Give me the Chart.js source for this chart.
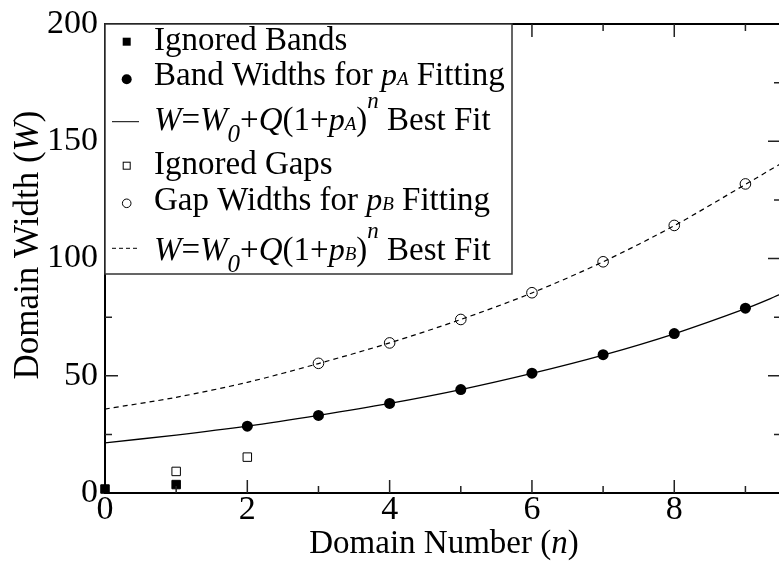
<!DOCTYPE html>
<html>
<head>
<meta charset="utf-8">
<script src="https://cdn.jsdelivr.net/npm/chart.js@4.4.1/dist/chart.umd.min.js"></script>
<style>
  html, body { margin: 0; padding: 0; background: #fff; overflow: hidden; width: 779px; height: 561px; }
  #wrap { position: relative; width: 788px; height: 561px; }
</style>
</head>
<body>
<div id="wrap"><canvas id="chart" width="788" height="561"></canvas></div>
<script>
// values
const ignoredBandN = [0, 1];
const ignoredBands = [1.7, 3.6];
const bandN = [2, 3, 4, 5, 6, 7, 8, 9];
const bandWidths = [28.5, 33.1, 38.2, 44.1, 51.1, 59.0, 68.0, 78.8];
const ignoredGapN = [1, 2];
const ignoredGaps = [9.2, 15.3];
const gapN = [3, 4, 5, 6, 7, 8, 9];
const gapWidths = [55.3, 64.0, 74.0, 85.4, 98.6, 114.1, 131.8];
const fitN = [0, 1, 2, 3, 4, 5, 6, 7, 8, 9, 9.5];
const bandFit = [21.4, 24.7, 28.5, 33.1, 38.2, 44.1, 51.0, 58.8, 67.9, 78.6, 84.8];
const gapFit = [35.8, 40.8, 47.2, 55.2, 64.0, 74.0, 85.3, 98.6, 114.0, 131.6, 140.5];
const seriesLabels = ['Ignored Bands', 'Band Widths for pA Fitting', 'W=W0+Q(1+pA)^n Best Fit',
  'Ignored Gaps', 'Gap Widths for pB Fitting', 'W=W0+Q(1+pB)^n Best Fit'];

const serif = '"Liberation Serif", "Times New Roman", serif';
const font = (size, italic) => (italic ? 'italic ' : '') + size + 'px ' + serif;
const pts = (xs, ys) => xs.map((v, i) => ({ x: v, y: ys[i] }));

function drawRuns(ctx, x, y, runs) {
  runs.forEach(r => {
    ctx.font = r.font;
    ctx.fillText(r.t, x, y + (r.dy || 0));
    x += ctx.measureText(r.t).width + (r.dx || 0);
  });
  return x;
}
function runsWidth(ctx, runs) {
  let w = 0;
  runs.forEach(r => { ctx.font = r.font; w += ctx.measureText(r.t).width + (r.dx || 0); });
  return w;
}

const R = font(33), I = font(33, true);
const pSub = s => [{ t: 'p', font: font(32, true) }, { t: s, font: font(19, true) }];
const formula = s => [
  { t: 'W', font: I }, { t: '=', font: R }, { t: 'W', font: I },
  { t: '0', font: font(25, true), dy: 12 }, { t: '+', font: R }, { t: 'Q', font: I },
  { t: '(1+', font: R }, ...pSub(s), { t: ')', font: R },
  { t: 'n', font: font(23, true), dy: -22 }, { t: ' Best Fit', font: R }
];

const legendRows = [
  { mark: 'fsq', y: 49.5, my: 41.7, runs: [{ t: 'Ignored Bands', font: R }] },
  { mark: 'fci', y: 84.5, my: 79.3, runs: [{ t: 'Band Widths for ', font: R }, ...pSub('A'), { t: ' Fitting', font: R }] },
  { mark: 'solid', y: 130, my: 121.7, runs: formula('A') },
  { mark: 'osq', y: 173.7, my: 165.7, runs: [{ t: 'Ignored Gaps', font: R }] },
  { mark: 'oci', y: 210, my: 203.3, runs: [{ t: 'Gap Widths for ', font: R }, ...pSub('B'), { t: ' Fitting', font: R }] },
  { mark: 'dash', y: 260, my: 248.3, runs: formula('B') }
];

const decor = {
  id: 'decor',
  afterDatasetsDraw(chart) {
    const { ctx, chartArea: a, scales: { x, y } } = chart;
    ctx.save();
    ctx.strokeStyle = '#000';
    ctx.lineWidth = 2;
    ctx.beginPath();
    ctx.moveTo(a.left, a.top); ctx.lineTo(a.right, a.top); ctx.lineTo(a.right, a.bottom);
    ctx.stroke();
    ctx.lineWidth = 1.5;
    ctx.strokeStyle = '#222';
    ctx.beginPath();
    x.ticks.forEach(t => {
      if (!Number.isInteger(t.value) || t.value <= x.min) return;
      const px = x.getPixelForValue(t.value);
      const len = t.value % 2 === 0 ? 13 : 7;
      ctx.moveTo(px, a.bottom); ctx.lineTo(px, a.bottom - len);
      ctx.moveTo(px, a.top); ctx.lineTo(px, a.top + len);
    });
    y.ticks.forEach(t => {
      if (t.value <= y.min || t.value >= y.max) return;
      const py = y.getPixelForValue(t.value);
      const len = t.value % 50 === 0 ? 13 : 7;
      ctx.moveTo(a.left, py); ctx.lineTo(a.left + len, py);
      ctx.moveTo(a.right, py); ctx.lineTo(a.right - len, py);
    });
    ctx.stroke();
    ctx.restore();
  },
  afterDraw(chart) {
    const { ctx, chartArea: a } = chart;
    ctx.save();
    ctx.fillStyle = '#000';
    ctx.textBaseline = 'alphabetic';
    // axis titles
    const xt = [{ t: 'Domain Number (', font: font(33) }, { t: 'n', font: font(33, true) }, { t: ')', font: font(33) }];
    drawRuns(ctx, 444 - runsWidth(ctx, xt) / 2, 553, xt);
    const yt = [{ t: 'Domain Width (', font: font(35) }, { t: 'W', font: font(35, true) }, { t: ')', font: font(35) }];
    const w = runsWidth(ctx, yt);
    ctx.translate(38, 245);
    ctx.rotate(-Math.PI / 2);
    drawRuns(ctx, -w / 2, 0, yt);
    ctx.setTransform(1, 0, 0, 1, 0, 0);

    // legend box
    const box = { l: a.left, t: a.top, r: 512, b: 274 };
    ctx.fillStyle = '#fff';
    ctx.fillRect(box.l, box.t, box.r - box.l, box.b - box.t);
    ctx.strokeStyle = '#333';
    ctx.lineWidth = 1.5;
    ctx.strokeRect(box.l, box.t, box.r - box.l, box.b - box.t);
    ctx.fillStyle = '#000';
    ctx.strokeStyle = '#000';
    const mx = 126.7;
    legendRows.forEach(row => {
      ctx.lineWidth = 1;
      ctx.setLineDash([]);
      ctx.beginPath();
      if (row.mark === 'fsq') { ctx.fillRect(mx - 4, row.my - 4, 8, 8); }
      else if (row.mark === 'osq') { ctx.strokeRect(mx - 3.5, row.my - 3.5, 7, 7); }
      else if (row.mark === 'fci') { ctx.arc(mx, row.my, 5, 0, Math.PI * 2); ctx.fill(); }
      else if (row.mark === 'oci') { ctx.arc(mx, row.my, 4.3, 0, Math.PI * 2); ctx.stroke(); }
      else {
        if (row.mark === 'dash') ctx.setLineDash([4, 3]);
        ctx.moveTo(112, row.my); ctx.lineTo(139, row.my); ctx.stroke();
      }
      ctx.setLineDash([]);
      drawRuns(ctx, 154, row.y, row.runs);
    });
    ctx.restore();
  }
};

const ctx = document.getElementById('chart').getContext('2d');
new Chart(ctx, {
  type: 'scatter',
  data: {
    datasets: [
      { label: seriesLabels[2], data: pts(fitN, bandFit), showLine: true, pointRadius: 0,
        borderColor: '#000', borderWidth: 1.3, tension: 0.3 },
      { label: seriesLabels[5], data: pts(fitN, gapFit), showLine: true, pointRadius: 0,
        borderColor: '#000', borderWidth: 1.2, borderDash: [5, 4], tension: 0.3 },
      { label: seriesLabels[0], data: pts(ignoredBandN, ignoredBands), pointStyle: 'rect', pointRadius: 6,
        backgroundColor: '#000', borderColor: '#000', borderWidth: 1, clip: false },
      { label: seriesLabels[1], data: pts(bandN, bandWidths), pointStyle: 'circle', pointRadius: 5.5,
        backgroundColor: '#000', borderColor: '#000', borderWidth: 0, clip: false },
      { label: seriesLabels[3], data: pts(ignoredGapN, ignoredGaps), pointStyle: 'rect', pointRadius: 6,
        backgroundColor: '#fff', borderColor: '#000', borderWidth: 1, clip: false },
      { label: seriesLabels[4], data: pts(gapN, gapWidths), pointStyle: 'circle', pointRadius: 5.3,
        backgroundColor: 'rgba(0,0,0,0)', borderColor: '#000', borderWidth: 1, clip: false }
    ]
  },
  options: {
    responsive: false,
    animation: false,
    devicePixelRatio: 1,
    layout: { padding: { top: 20, right: 2, left: 0, bottom: 0 } },
    plugins: { legend: { display: false }, tooltip: { enabled: false } },
    scales: {
      x: {
        type: 'linear', min: 0, max: 9.5,
        afterFit(s) { s.height = 68; },
        grid: { display: false, drawTicks: false },
        border: { display: true, color: '#000', width: 2 },
        ticks: {
          stepSize: 1, includeBounds: false, autoSkip: false, maxRotation: 0, padding: 0,
          color: '#000', font: { family: serif, size: 34, lineHeight: 1 },
          callback: v => (v % 2 === 0 ? String(v) : '')
        }
      },
      y: {
        type: 'linear', min: 0, max: 200,
        afterFit(s) { s.width = 105; },
        grid: { display: false, drawTicks: false },
        border: { display: true, color: '#000', width: 2 },
        ticks: {
          stepSize: 25, autoSkip: false, padding: 7,
          color: '#000', font: { family: serif, size: 34, lineHeight: 1 },
          callback: v => (v % 50 === 0 ? String(v) : '')
        }
      }
    }
  },
  plugins: [decor]
});
</script>
</body>
</html>
